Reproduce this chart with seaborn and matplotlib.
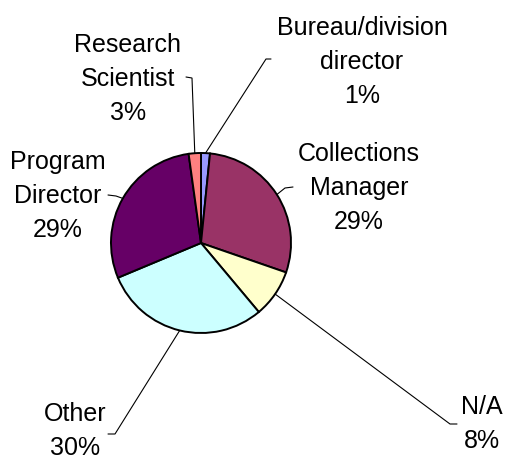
import numpy as np
import matplotlib
matplotlib.use("Agg")
import matplotlib.pyplot as plt
import seaborn as sns

# data (shares, labels as printed)
categories = ["Bureau/division\ndirector", "Collections\nManager", "N/A", "Other",
              "Program\nDirector", "Research\nScientist"]
shares = [1.6, 28.7, 8.6, 29.8, 29.1, 2.2]
pct_labels = ["1%", "29%", "8%", "30%", "29%", "3%"]
colors = ["#9999FF", "#993366", "#FFFFCC", "#CCFFFF", "#660066", "#FF8080"]

# label layout in image pixels: text centre, leader tick start, leader elbow
W, H = 505, 459
label_pos = [(362, 62), (359, 188), (482, 424), (75, 431), (58, 196), (128, 79)]
tick_start = [(271, 59), (293, 187), (457, 424), (108, 434), (108, 195), (186, 77)]
tick_elbow = [(266, 59), (285, 188), (450, 424), (115, 434), (116, 196), (192, 78)]

sns.set_style("white")
plt.rcParams["font.family"] = ["Liberation Sans", "DejaVu Sans"]

fig = plt.figure(figsize=(W / 100, H / 100), dpi=100)
ax = fig.add_axes([0, 0, 1, 1])

cx, cy, r = 201, H - 243, 90
wedges, _ = ax.pie(shares, colors=colors, startangle=90, counterclock=False,
                   center=(cx, cy), radius=r, frame=True,
                   wedgeprops=dict(edgecolor="black", linewidth=1.4))
ax.set_xlim(0, W)
ax.set_ylim(0, H)
ax.set_aspect("equal")
ax.axis("off")

for w, name, pct, (tx, ty), (sx, sy), (ex, ey) in zip(
        wedges, categories, pct_labels, label_pos, tick_start, tick_elbow):
    # leader line ends at the middle of the wedge's rim
    mid = np.deg2rad((w.theta1 + w.theta2) / 2)
    ax_x = cx + r * np.cos(mid)
    ax_y = cy + r * np.sin(mid)
    ax.plot([sx, ex, ax_x], [H - sy, H - ey, ax_y], color="black", lw=0.8,
            solid_joinstyle="miter")
    ax.text(tx, H - ty, f"{name}\n{pct}", ha="center", va="center",
            multialignment="center", fontsize=18, linespacing=1.55,
            color="black")

fig.savefig("out.png", dpi=100)
